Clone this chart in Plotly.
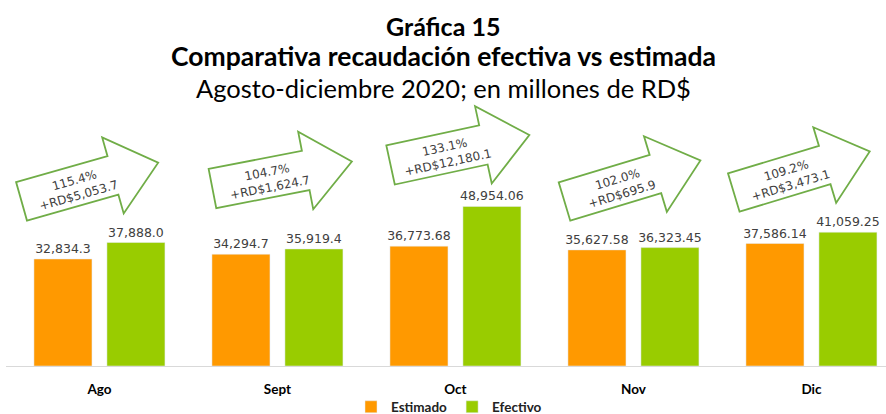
import math
import plotly.graph_objects as go

# ---- data ----
categories = ["Ago", "Sept", "Oct", "Nov", "Dic"]
estimado = [32834.3, 34294.7, 36773.68, 35627.58, 37586.14]
efectivo = [37888.0, 35919.4, 48954.06, 36323.45, 41059.25]
decimals = [1, 1, 2, 2, 2]
pct_labels = ["115.4%", "104.7%", "133.1%", "102.0%", "109.2%"]
diff_labels = ["+RD$5,053.7", "+RD$1,624.7", "+RD$12,180.1", "+RD$695.9", "+RD$3,473.1"]

# ---- layout constants (pixels) ----
W, H = 886, 414
ML, MR, MT, MB = 6, 0, 100, 48
PW, PH = W - ML - MR, H - MT - MB
X0 = -0.525
XSPAN = PW / 178.0
YMAX = PH / 0.003259

ORANGE = "#FF9900"
GREEN = "#99CC00"
ARROW = "#70AD47"
TXT = "#404040"

# arrow placement: (dx from category centre px, centre y px, angle deg)
arrow_pos = [(-9.6, 182, -15.8), (4.7, 175, -11.0), (4.5, 150, -12.2),
             (-1.0, 181, -16.8), (-9.7, 172, -16.8)]


def px_x(i):
    return ML + (i - X0) / XSPAN * PW


def to_paper(px, py):
    return (px - ML) / PW, (H - MB - py) / PH


def fmt(v, d):
    return f"{v:,.{d}f}"


fig = go.Figure()
fig.add_trace(go.Bar(
    name="Estimado", x=categories, y=estimado, marker_color=ORANGE,
    text=[fmt(v, d) for v, d in zip(estimado, decimals)],
    textposition="outside", cliponaxis=False, constraintext="none",
    textfont=dict(family="DejaVu Sans", size=12.5, color=TXT),
))
fig.add_trace(go.Bar(
    name="Efectivo", x=categories, y=efectivo, marker_color=GREEN,
    text=[fmt(v, d) for v, d in zip(efectivo, decimals)],
    textposition="outside", cliponaxis=False, constraintext="none",
    textfont=dict(family="DejaVu Sans", size=12.5, color=TXT),
))

# arrows
L, HB, HH, HEAD = 142, 20, 39.5, 24
local = [(-L / 2, -HB), (HEAD, -HB), (HEAD, -HH), (L / 2, 0),
         (HEAD, HH), (HEAD, HB), (-L / 2, HB)]
shapes = []
annotations = []
for i, (dx, cy, ang) in enumerate(arrow_pos):
    cx = px_x(i) + dx
    t = math.radians(ang)
    d = (math.cos(t), math.sin(t))
    n = (-math.sin(t), math.cos(t))
    pts = []
    for u, v in local:
        sx = cx + u * d[0] + v * n[0]
        sy = cy + u * d[1] + v * n[1]
        pts.append(to_paper(sx, sy))
    path = "M " + " L ".join(f"{x:.5f},{y:.5f}" for x, y in pts) + " Z"
    shapes.append(dict(type="path", path=path, xref="paper", yref="paper",
                       line=dict(color=ARROW, width=1.8), fillcolor="white",
                       layer="above"))
    tu, tv = -14, 2
    tx = cx + tu * d[0] + tv * n[0]
    ty = cy + tu * d[1] + tv * n[1]
    px_, py_ = to_paper(tx, ty)
    annotations.append(dict(
        x=px_, y=py_, xref="paper", yref="paper", showarrow=False,
        text=f"{pct_labels[i]}<br>{diff_labels[i]}", textangle=ang,
        xanchor="center", yanchor="middle",
        font=dict(family="DejaVu Sans", size=12, color=TXT),
    ))

# title lines
XC = (W / 2 - ML) / PW
title_lines = [("<b>Gráfica 15</b>", 26, 25),
               ("<b>Comparativa recaudación efectiva vs estimada</b>", 56, 26.5),
               ("Agosto-diciembre 2020; en millones de RD$", 88, 25.5)]
for txt, py, fs in title_lines:
    _, yp = to_paper(0, py)
    annotations.append(dict(x=XC, y=yp, xref="paper", yref="paper",
                            showarrow=False, text=txt, xanchor="center", yanchor="middle",
                            font=dict(family="Lato", size=fs, color="black")))

fig.update_layout(
    width=W, height=H, margin=dict(l=ML, r=MR, t=MT, b=MB, autoexpand=False),
    paper_bgcolor="white", plot_bgcolor="white",
    barmode="group", bargap=0.18, bargroupgap=0.205,
    showlegend=True,
    legend=dict(orientation="h", x=(W / 2 + 6 - ML) / PW, xanchor="center",
                y=(H - MB - 407) / PH, yanchor="middle",
                bgcolor="rgba(0,0,0,0)",
                font=dict(family="Lato", size=13.5, color="#222222", weight="bold"),
                itemwidth=30, traceorder="normal"),
    shapes=shapes, annotations=annotations,
    font=dict(family="Lato"),
)
fig.update_xaxes(type="category", range=[X0, X0 + XSPAN], showline=True,
                 linecolor="#D9D9D9", linewidth=1, showgrid=False,
                 ticks="outside", ticklen=11, tickcolor="rgba(0,0,0,0)",
                 tickfont=dict(family="Lato", size=13.5, color="black", weight="bold"))
fig.update_yaxes(range=[0, YMAX], visible=False, showgrid=False)

fig.write_html("out.html", config={"displayModeBar": False},
               post_script="document.body.style.margin='0';document.body.style.padding='0';")
